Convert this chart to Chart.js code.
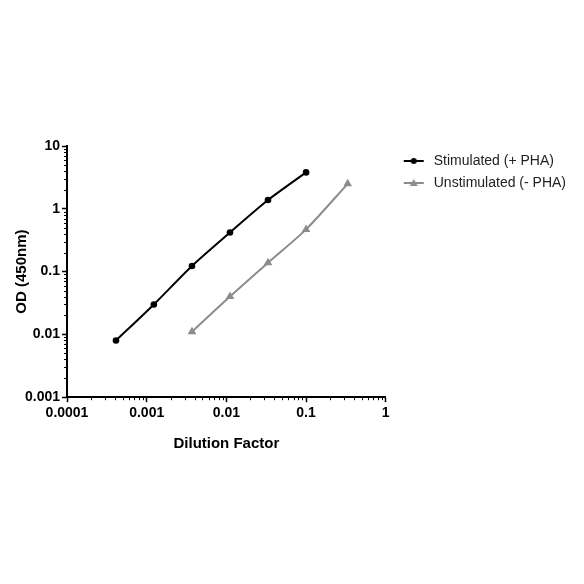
<!DOCTYPE html>
<html>
<head>
<meta charset="utf-8">
<script src="https://cdn.jsdelivr.net/npm/chart.js@4/dist/chart.umd.min.js"></script>
<style>
  html, body { margin: 0; padding: 0; background: #fff; }
  #wrap { width: 584px; height: 584px; }
</style>
</head>
<body>
<div id="wrap"><canvas id="myChart" width="584" height="584"></canvas></div>
<script>
// dilution factors and OD readings
const stimDilution = [0.000412, 0.00123, 0.0037, 0.0111, 0.0333, 0.1];
const stimOD = [0.0080, 0.030, 0.123, 0.42, 1.38, 3.8];
const unstimDilution = [0.0037, 0.0111, 0.0333, 0.1, 0.333];
const unstimOD = [0.011, 0.040, 0.138, 0.47, 2.5];

const xTickLabels = ['0.0001', '0.001', '0.01', '0.1', '1'];
const yTickLabels = ['0.001', '0.01', '0.1', '1', '10'];

const BLACK = '#000000';
const GRAY = '#8c8c8c';

// small legend symbols: line with marker
function legendSymbol(color, marker) {
    const c = document.createElement('canvas');
    c.width = 33;
    c.height = 10;
    const g = c.getContext('2d');
    g.strokeStyle = color;
    g.fillStyle = color;
    g.lineWidth = 2;
    g.beginPath();
    g.moveTo(10, 5);
    g.lineTo(30, 5);
    g.stroke();
    g.beginPath();
    if (marker === 'circle') {
        g.arc(20, 5, 3, 0, Math.PI * 2);
    } else {
        g.moveTo(20, 1);
        g.lineTo(24, 8);
        g.lineTo(16, 8);
        g.closePath();
    }
    g.fill();
    return c;
}

// short minor ticks on both log axes
const minorTicks = {
    id: 'minorTicks',
    afterDraw(chart) {
        const ctx = chart.ctx;
        const area = chart.chartArea;
        ctx.save();
        ctx.strokeStyle = BLACK;
        ctx.lineWidth = 1;
        const xs = chart.scales.x;
        for (let e = -4; e < 0; e++) {
            for (let m = 2; m <= 9; m++) {
                const px = Math.round(xs.getPixelForValue(m * Math.pow(10, e))) + 0.5;
                ctx.beginPath();
                ctx.moveTo(px, area.bottom);
                ctx.lineTo(px, area.bottom + 3);
                ctx.stroke();
            }
        }
        const ys = chart.scales.y;
        for (let e = -3; e < 1; e++) {
            for (let m = 2; m <= 9; m++) {
                const py = Math.round(ys.getPixelForValue(m * Math.pow(10, e))) + 0.5;
                ctx.beginPath();
                ctx.moveTo(area.left, py);
                ctx.lineTo(area.left - 3, py);
                ctx.stroke();
            }
        }
        ctx.restore();
    }
};

const ctx = document.getElementById('myChart').getContext('2d');
const myChart = new Chart(ctx, {
    type: 'line',
    data: {
        datasets: [{
            label: 'Stimulated (+ PHA)',
            data: stimDilution.map((x, i) => ({ x: x, y: stimOD[i] })),
            borderColor: BLACK,
            backgroundColor: BLACK,
            borderWidth: 2,
            pointStyle: 'circle',
            pointRadius: 3.3,
            pointBorderWidth: 0,
            tension: 0.25
        }, {
            label: 'Unstimulated (- PHA)',
            data: unstimDilution.map((x, i) => ({ x: x, y: unstimOD[i] })),
            borderColor: GRAY,
            backgroundColor: GRAY,
            borderWidth: 2,
            pointStyle: 'triangle',
            pointRadius: 5,
            pointBorderWidth: 0,
            tension: 0.25
        }]
    },
    options: {
        responsive: false,
        animation: false,
        layout: {
            padding: { top: 146, left: 13, right: 8, bottom: 131 }
        },
        plugins: {
            tooltip: { enabled: false },
            legend: {
                position: 'right',
                align: 'start',
                maxWidth: 210,
                labels: {
                    usePointStyle: true,
                    pointStyleWidth: 33,
                    padding: 8,
                    color: '#222222',
                    font: { family: 'Liberation Sans, Arial, sans-serif', size: 14 },
                    generateLabels(chart) {
                        return [
                            { text: chart.data.datasets[0].label, pointStyle: legendSymbol(BLACK, 'circle'), datasetIndex: 0, fontColor: '#222222', lineWidth: 0 },
                            { text: chart.data.datasets[1].label, pointStyle: legendSymbol(GRAY, 'triangle'), datasetIndex: 1, fontColor: '#222222', lineWidth: 0 }
                        ];
                    }
                }
            }
        },
        scales: {
            x: {
                type: 'logarithmic',
                min: 0.0001,
                max: 1,
                afterBuildTicks(scale) {
                    scale.ticks = xTickLabels.map(v => ({ value: Number(v) }));
                },
                ticks: {
                    autoSkip: false,
                    maxRotation: 0,
                    padding: 3,
                    color: BLACK,
                    font: { family: 'Liberation Sans, Arial, sans-serif', size: 14, weight: 'bold' },
                    callback(value, index) { return xTickLabels[index]; }
                },
                grid: {
                    drawOnChartArea: false,
                    drawTicks: true,
                    tickLength: 5,
                    tickColor: BLACK,
                    tickWidth: 1.5
                },
                border: { color: BLACK, width: 2 },
                title: {
                    display: true,
                    text: 'Dilution Factor',
                    color: BLACK,
                    padding: { top: 10, bottom: 0 },
                    font: { family: 'Liberation Sans, Arial, sans-serif', size: 15, weight: 'bold' }
                }
            },
            y: {
                type: 'logarithmic',
                min: 0.001,
                max: 10,
                afterBuildTicks(scale) {
                    scale.ticks = yTickLabels.map(v => ({ value: Number(v) }));
                },
                afterFit(scale) {
                    scale.width = 54;
                },
                ticks: {
                    autoSkip: false,
                    padding: 2,
                    color: BLACK,
                    font: { family: 'Liberation Sans, Arial, sans-serif', size: 14, weight: 'bold' },
                    callback(value, index) { return yTickLabels[index]; }
                },
                grid: {
                    drawOnChartArea: false,
                    drawTicks: true,
                    tickLength: 5,
                    tickColor: BLACK,
                    tickWidth: 1.5
                },
                border: { color: BLACK, width: 2 },
                title: {
                    display: true,
                    text: 'OD (450nm)',
                    color: BLACK,
                    padding: { top: 0, bottom: 0 },
                    font: { family: 'Liberation Sans, Arial, sans-serif', size: 15, weight: 'bold' }
                }
            }
        }
    },
    plugins: [minorTicks]
});
</script>
</body>
</html>
